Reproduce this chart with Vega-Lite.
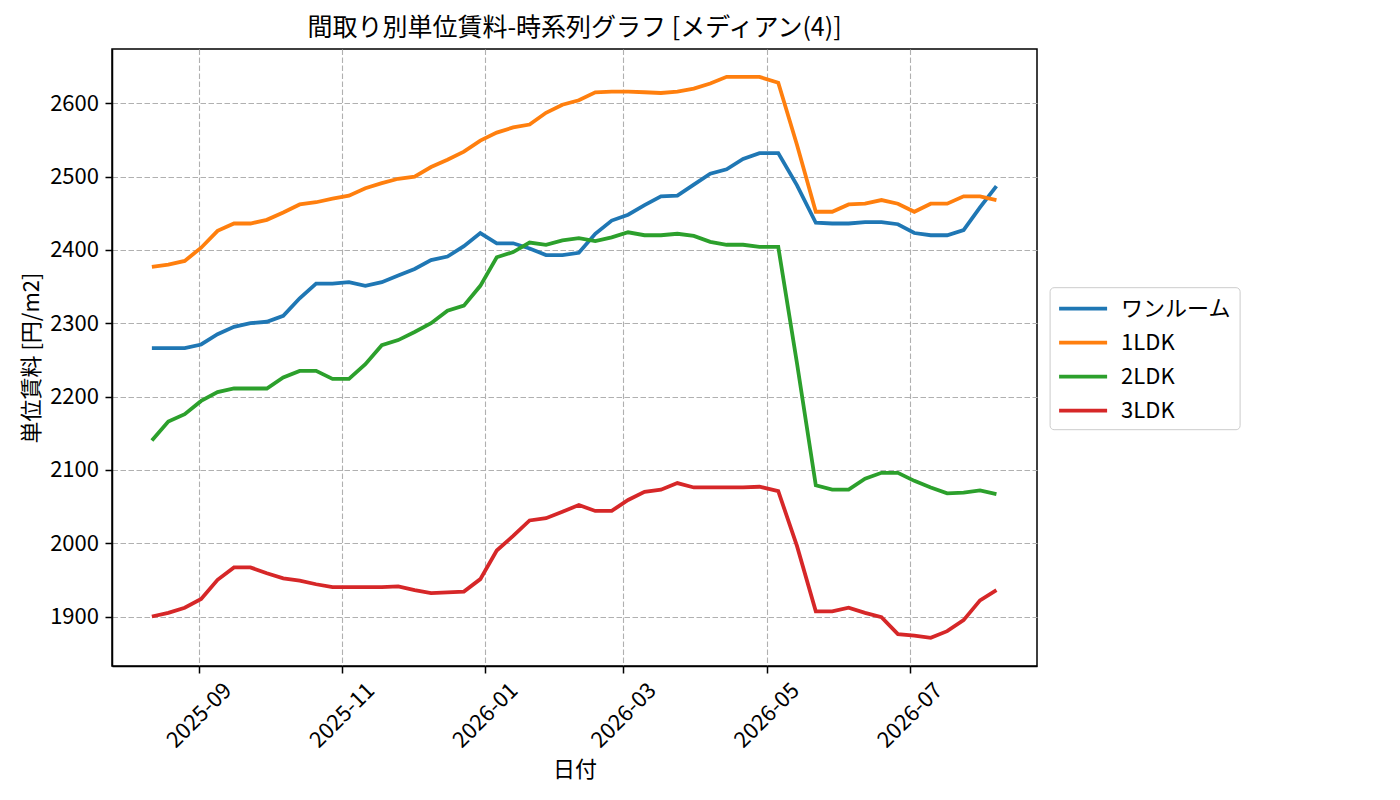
{
  "$schema": "https://vega.github.io/schema/vega-lite/v6.json",
  "width": 925,
  "height": 617,
  "autosize": {"type": "none"},
  "padding": {"left": 112, "top": 49, "right": 363, "bottom": 134},
  "background": "white",
  "config": {
    "font": "Noto Sans CJK JP",
    "view": {"stroke": "black", "strokeWidth": 1.5},
    "axis": {
      "labelFont": "Noto Sans CJK JP",
      "labelFontSize": 22,
      "labelColor": "black",
      "titleFont": "Noto Sans CJK JP",
      "titleFontSize": 22,
      "titleFontWeight": "normal",
      "titleColor": "black",
      "domainColor": "black",
      "domainWidth": 1.5,
      "tickColor": "black",
      "tickSize": 7,
      "tickWidth": 1.5,
      "gridColor": "#b0b0b0",
      "gridDash": [5.5, 2.5],
      "gridWidth": 1.1
    },
    "legend": {
      "orient": "none",
      "legendX": 937.6,
      "legendY": 238.2,
      "symbolType": "M-1,0L3,0",
      "symbolSize": 576,
      "symbolStrokeWidth": 3.8,
      "labelFont": "Noto Sans CJK JP",
      "labelFontSize": 22,
      "labelColor": "black",
      "labelOffset": 36,
      "rowPadding": 9,
      "padding": 7.5,
      "fillColor": "white",
      "strokeColor": "#cccccc",
      "cornerRadius": 4
    }
  },
  "title": {
    "text": "間取り別単位賃料-時系列グラフ [メディアン(4)]",
    "fontSize": 25,
    "fontWeight": "normal",
    "color": "black",
    "offset": 8
  },
  "data": {
    "values": [
      {"date": "2025-08-12", "series": "ワンルーム", "value": 2266},
      {"date": "2025-08-19", "series": "ワンルーム", "value": 2266},
      {"date": "2025-08-26", "series": "ワンルーム", "value": 2266},
      {"date": "2025-09-02", "series": "ワンルーム", "value": 2271},
      {"date": "2025-09-09", "series": "ワンルーム", "value": 2285},
      {"date": "2025-09-16", "series": "ワンルーム", "value": 2295},
      {"date": "2025-09-23", "series": "ワンルーム", "value": 2300},
      {"date": "2025-09-30", "series": "ワンルーム", "value": 2302},
      {"date": "2025-10-07", "series": "ワンルーム", "value": 2310},
      {"date": "2025-10-14", "series": "ワンルーム", "value": 2334},
      {"date": "2025-10-21", "series": "ワンルーム", "value": 2354},
      {"date": "2025-10-28", "series": "ワンルーム", "value": 2354},
      {"date": "2025-11-04", "series": "ワンルーム", "value": 2356},
      {"date": "2025-11-11", "series": "ワンルーム", "value": 2351},
      {"date": "2025-11-18", "series": "ワンルーム", "value": 2356},
      {"date": "2025-11-25", "series": "ワンルーム", "value": 2365},
      {"date": "2025-12-02", "series": "ワンルーム", "value": 2374},
      {"date": "2025-12-09", "series": "ワンルーム", "value": 2386},
      {"date": "2025-12-16", "series": "ワンルーム", "value": 2391},
      {"date": "2025-12-23", "series": "ワンルーム", "value": 2405},
      {"date": "2025-12-30", "series": "ワンルーム", "value": 2423},
      {"date": "2026-01-06", "series": "ワンルーム", "value": 2409},
      {"date": "2026-01-13", "series": "ワンルーム", "value": 2409},
      {"date": "2026-01-20", "series": "ワンルーム", "value": 2402},
      {"date": "2026-01-27", "series": "ワンルーム", "value": 2393},
      {"date": "2026-02-03", "series": "ワンルーム", "value": 2393},
      {"date": "2026-02-10", "series": "ワンルーム", "value": 2396},
      {"date": "2026-02-17", "series": "ワンルーム", "value": 2422},
      {"date": "2026-02-24", "series": "ワンルーム", "value": 2440},
      {"date": "2026-03-03", "series": "ワンルーム", "value": 2448},
      {"date": "2026-03-10", "series": "ワンルーム", "value": 2461},
      {"date": "2026-03-17", "series": "ワンルーム", "value": 2473},
      {"date": "2026-03-24", "series": "ワンルーム", "value": 2474},
      {"date": "2026-03-31", "series": "ワンルーム", "value": 2489},
      {"date": "2026-04-07", "series": "ワンルーム", "value": 2504},
      {"date": "2026-04-14", "series": "ワンルーム", "value": 2510},
      {"date": "2026-04-21", "series": "ワンルーム", "value": 2524},
      {"date": "2026-04-28", "series": "ワンルーム", "value": 2532},
      {"date": "2026-05-06", "series": "ワンルーム", "value": 2532},
      {"date": "2026-05-14", "series": "ワンルーム", "value": 2488},
      {"date": "2026-05-22", "series": "ワンルーム", "value": 2437},
      {"date": "2026-05-29", "series": "ワンルーム", "value": 2436},
      {"date": "2026-06-05", "series": "ワンルーム", "value": 2436},
      {"date": "2026-06-12", "series": "ワンルーム", "value": 2438},
      {"date": "2026-06-19", "series": "ワンルーム", "value": 2438},
      {"date": "2026-06-26", "series": "ワンルーム", "value": 2435},
      {"date": "2026-07-03", "series": "ワンルーム", "value": 2423},
      {"date": "2026-07-10", "series": "ワンルーム", "value": 2420},
      {"date": "2026-07-17", "series": "ワンルーム", "value": 2420},
      {"date": "2026-07-24", "series": "ワンルーム", "value": 2427},
      {"date": "2026-07-31", "series": "ワンルーム", "value": 2458},
      {"date": "2026-08-07", "series": "ワンルーム", "value": 2487},

      {"date": "2025-08-12", "series": "1LDK", "value": 2377},
      {"date": "2025-08-19", "series": "1LDK", "value": 2380},
      {"date": "2025-08-26", "series": "1LDK", "value": 2385},
      {"date": "2025-09-02", "series": "1LDK", "value": 2403},
      {"date": "2025-09-09", "series": "1LDK", "value": 2426},
      {"date": "2025-09-16", "series": "1LDK", "value": 2436},
      {"date": "2025-09-23", "series": "1LDK", "value": 2436},
      {"date": "2025-09-30", "series": "1LDK", "value": 2441},
      {"date": "2025-10-07", "series": "1LDK", "value": 2451},
      {"date": "2025-10-14", "series": "1LDK", "value": 2462},
      {"date": "2025-10-21", "series": "1LDK", "value": 2465},
      {"date": "2025-10-28", "series": "1LDK", "value": 2470},
      {"date": "2025-11-04", "series": "1LDK", "value": 2474},
      {"date": "2025-11-11", "series": "1LDK", "value": 2484},
      {"date": "2025-11-18", "series": "1LDK", "value": 2491},
      {"date": "2025-11-25", "series": "1LDK", "value": 2497},
      {"date": "2025-12-02", "series": "1LDK", "value": 2500},
      {"date": "2025-12-09", "series": "1LDK", "value": 2513},
      {"date": "2025-12-16", "series": "1LDK", "value": 2523},
      {"date": "2025-12-23", "series": "1LDK", "value": 2534},
      {"date": "2025-12-30", "series": "1LDK", "value": 2549},
      {"date": "2026-01-06", "series": "1LDK", "value": 2560},
      {"date": "2026-01-13", "series": "1LDK", "value": 2567},
      {"date": "2026-01-20", "series": "1LDK", "value": 2571},
      {"date": "2026-01-27", "series": "1LDK", "value": 2587},
      {"date": "2026-02-03", "series": "1LDK", "value": 2598},
      {"date": "2026-02-10", "series": "1LDK", "value": 2604},
      {"date": "2026-02-17", "series": "1LDK", "value": 2615},
      {"date": "2026-02-24", "series": "1LDK", "value": 2616},
      {"date": "2026-03-03", "series": "1LDK", "value": 2616},
      {"date": "2026-03-10", "series": "1LDK", "value": 2615},
      {"date": "2026-03-17", "series": "1LDK", "value": 2614},
      {"date": "2026-03-24", "series": "1LDK", "value": 2616},
      {"date": "2026-03-31", "series": "1LDK", "value": 2620},
      {"date": "2026-04-07", "series": "1LDK", "value": 2627},
      {"date": "2026-04-14", "series": "1LDK", "value": 2636},
      {"date": "2026-04-21", "series": "1LDK", "value": 2636},
      {"date": "2026-04-28", "series": "1LDK", "value": 2636},
      {"date": "2026-05-06", "series": "1LDK", "value": 2628},
      {"date": "2026-05-14", "series": "1LDK", "value": 2543},
      {"date": "2026-05-22", "series": "1LDK", "value": 2452},
      {"date": "2026-05-29", "series": "1LDK", "value": 2452},
      {"date": "2026-06-05", "series": "1LDK", "value": 2462},
      {"date": "2026-06-12", "series": "1LDK", "value": 2463},
      {"date": "2026-06-19", "series": "1LDK", "value": 2468},
      {"date": "2026-06-26", "series": "1LDK", "value": 2463},
      {"date": "2026-07-03", "series": "1LDK", "value": 2452},
      {"date": "2026-07-10", "series": "1LDK", "value": 2463},
      {"date": "2026-07-17", "series": "1LDK", "value": 2463},
      {"date": "2026-07-24", "series": "1LDK", "value": 2473},
      {"date": "2026-07-31", "series": "1LDK", "value": 2473},
      {"date": "2026-08-07", "series": "1LDK", "value": 2468},

      {"date": "2025-08-12", "series": "2LDK", "value": 2140},
      {"date": "2025-08-19", "series": "2LDK", "value": 2166},
      {"date": "2025-08-26", "series": "2LDK", "value": 2176},
      {"date": "2025-09-02", "series": "2LDK", "value": 2194},
      {"date": "2025-09-09", "series": "2LDK", "value": 2206},
      {"date": "2025-09-16", "series": "2LDK", "value": 2211},
      {"date": "2025-09-23", "series": "2LDK", "value": 2211},
      {"date": "2025-09-30", "series": "2LDK", "value": 2211},
      {"date": "2025-10-07", "series": "2LDK", "value": 2226},
      {"date": "2025-10-14", "series": "2LDK", "value": 2235},
      {"date": "2025-10-21", "series": "2LDK", "value": 2235},
      {"date": "2025-10-28", "series": "2LDK", "value": 2224},
      {"date": "2025-11-04", "series": "2LDK", "value": 2224},
      {"date": "2025-11-11", "series": "2LDK", "value": 2244},
      {"date": "2025-11-18", "series": "2LDK", "value": 2270},
      {"date": "2025-11-25", "series": "2LDK", "value": 2277},
      {"date": "2025-12-02", "series": "2LDK", "value": 2288},
      {"date": "2025-12-09", "series": "2LDK", "value": 2300},
      {"date": "2025-12-16", "series": "2LDK", "value": 2317},
      {"date": "2025-12-23", "series": "2LDK", "value": 2324},
      {"date": "2025-12-30", "series": "2LDK", "value": 2351},
      {"date": "2026-01-06", "series": "2LDK", "value": 2390},
      {"date": "2026-01-13", "series": "2LDK", "value": 2397},
      {"date": "2026-01-20", "series": "2LDK", "value": 2410},
      {"date": "2026-01-27", "series": "2LDK", "value": 2407},
      {"date": "2026-02-03", "series": "2LDK", "value": 2413},
      {"date": "2026-02-10", "series": "2LDK", "value": 2416},
      {"date": "2026-02-17", "series": "2LDK", "value": 2412},
      {"date": "2026-02-24", "series": "2LDK", "value": 2417},
      {"date": "2026-03-03", "series": "2LDK", "value": 2424},
      {"date": "2026-03-10", "series": "2LDK", "value": 2420},
      {"date": "2026-03-17", "series": "2LDK", "value": 2420},
      {"date": "2026-03-24", "series": "2LDK", "value": 2422},
      {"date": "2026-03-31", "series": "2LDK", "value": 2419},
      {"date": "2026-04-07", "series": "2LDK", "value": 2411},
      {"date": "2026-04-14", "series": "2LDK", "value": 2407},
      {"date": "2026-04-21", "series": "2LDK", "value": 2407},
      {"date": "2026-04-28", "series": "2LDK", "value": 2404},
      {"date": "2026-05-06", "series": "2LDK", "value": 2404},
      {"date": "2026-05-14", "series": "2LDK", "value": 2245},
      {"date": "2026-05-22", "series": "2LDK", "value": 2079},
      {"date": "2026-05-29", "series": "2LDK", "value": 2073},
      {"date": "2026-06-05", "series": "2LDK", "value": 2073},
      {"date": "2026-06-12", "series": "2LDK", "value": 2088},
      {"date": "2026-06-19", "series": "2LDK", "value": 2096},
      {"date": "2026-06-26", "series": "2LDK", "value": 2096},
      {"date": "2026-07-03", "series": "2LDK", "value": 2085},
      {"date": "2026-07-10", "series": "2LDK", "value": 2076},
      {"date": "2026-07-17", "series": "2LDK", "value": 2068},
      {"date": "2026-07-24", "series": "2LDK", "value": 2069},
      {"date": "2026-07-31", "series": "2LDK", "value": 2072},
      {"date": "2026-08-07", "series": "2LDK", "value": 2067},

      {"date": "2025-08-12", "series": "3LDK", "value": 1900},
      {"date": "2025-08-19", "series": "3LDK", "value": 1905},
      {"date": "2025-08-26", "series": "3LDK", "value": 1912},
      {"date": "2025-09-02", "series": "3LDK", "value": 1924},
      {"date": "2025-09-09", "series": "3LDK", "value": 1950},
      {"date": "2025-09-16", "series": "3LDK", "value": 1967},
      {"date": "2025-09-23", "series": "3LDK", "value": 1967},
      {"date": "2025-09-30", "series": "3LDK", "value": 1959},
      {"date": "2025-10-07", "series": "3LDK", "value": 1952},
      {"date": "2025-10-14", "series": "3LDK", "value": 1949},
      {"date": "2025-10-21", "series": "3LDK", "value": 1944},
      {"date": "2025-10-28", "series": "3LDK", "value": 1940},
      {"date": "2025-11-04", "series": "3LDK", "value": 1940},
      {"date": "2025-11-11", "series": "3LDK", "value": 1940},
      {"date": "2025-11-18", "series": "3LDK", "value": 1940},
      {"date": "2025-11-25", "series": "3LDK", "value": 1941},
      {"date": "2025-12-02", "series": "3LDK", "value": 1936},
      {"date": "2025-12-09", "series": "3LDK", "value": 1932},
      {"date": "2025-12-16", "series": "3LDK", "value": 1933},
      {"date": "2025-12-23", "series": "3LDK", "value": 1934},
      {"date": "2025-12-30", "series": "3LDK", "value": 1951},
      {"date": "2026-01-06", "series": "3LDK", "value": 1990},
      {"date": "2026-01-13", "series": "3LDK", "value": 2010},
      {"date": "2026-01-20", "series": "3LDK", "value": 2031},
      {"date": "2026-01-27", "series": "3LDK", "value": 2034},
      {"date": "2026-02-03", "series": "3LDK", "value": 2043},
      {"date": "2026-02-10", "series": "3LDK", "value": 2052},
      {"date": "2026-02-17", "series": "3LDK", "value": 2044},
      {"date": "2026-02-24", "series": "3LDK", "value": 2044},
      {"date": "2026-03-03", "series": "3LDK", "value": 2059},
      {"date": "2026-03-10", "series": "3LDK", "value": 2070},
      {"date": "2026-03-17", "series": "3LDK", "value": 2073},
      {"date": "2026-03-24", "series": "3LDK", "value": 2082},
      {"date": "2026-03-31", "series": "3LDK", "value": 2076},
      {"date": "2026-04-07", "series": "3LDK", "value": 2076},
      {"date": "2026-04-14", "series": "3LDK", "value": 2076},
      {"date": "2026-04-21", "series": "3LDK", "value": 2076},
      {"date": "2026-04-28", "series": "3LDK", "value": 2077},
      {"date": "2026-05-06", "series": "3LDK", "value": 2071},
      {"date": "2026-05-14", "series": "3LDK", "value": 1996},
      {"date": "2026-05-22", "series": "3LDK", "value": 1907},
      {"date": "2026-05-29", "series": "3LDK", "value": 1907},
      {"date": "2026-06-05", "series": "3LDK", "value": 1912},
      {"date": "2026-06-12", "series": "3LDK", "value": 1905},
      {"date": "2026-06-19", "series": "3LDK", "value": 1899},
      {"date": "2026-06-26", "series": "3LDK", "value": 1876},
      {"date": "2026-07-03", "series": "3LDK", "value": 1874},
      {"date": "2026-07-10", "series": "3LDK", "value": 1871},
      {"date": "2026-07-17", "series": "3LDK", "value": 1880},
      {"date": "2026-07-24", "series": "3LDK", "value": 1895},
      {"date": "2026-07-31", "series": "3LDK", "value": 1922},
      {"date": "2026-08-07", "series": "3LDK", "value": 1936}
    ]
  },
  "mark": {"type": "line", "strokeWidth": 3.8},
  "encoding": {
    "x": {
      "field": "date",
      "type": "temporal",
      "title": "日付",
      "scale": {
        "type": "utc",
        "domain": [
          {"year": 2025, "month": 7, "date": 26, "utc": true},
          {"year": 2026, "month": 8, "date": 24, "hours": 7, "utc": true}
        ]
      },
      "axis": {
        "values": [
          {"year": 2025, "month": 9, "date": 1, "utc": true},
          {"year": 2025, "month": 11, "date": 1, "utc": true},
          {"year": 2026, "month": 1, "date": 1, "utc": true},
          {"year": 2026, "month": 3, "date": 1, "utc": true},
          {"year": 2026, "month": 5, "date": 1, "utc": true},
          {"year": 2026, "month": 7, "date": 1, "utc": true}
        ],
        "format": "%Y-%m",
        "labelAngle": -45,
        "labelAlign": "center",
        "labelBaseline": "middle",
        "labelPadding": 42,
        "labelFlush": false,
        "labelOverlap": false,
        "titlePadding": 8
      }
    },
    "y": {
      "field": "value",
      "type": "quantitative",
      "title": "単位賃料 [円/m2]",
      "scale": {"domain": [1832.5, 2674], "nice": false, "zero": false},
      "axis": {
        "values": [1900, 2000, 2100, 2200, 2300, 2400, 2500, 2600],
        "format": "d",
        "labelPadding": 6.5,
        "titlePadding": 6
      }
    },
    "color": {
      "field": "series",
      "type": "nominal",
      "scale": {
        "domain": ["ワンルーム", "1LDK", "2LDK", "3LDK"],
        "range": ["#1f77b4", "#ff7f0e", "#2ca02c", "#d62728"]
      },
      "legend": {"title": null}
    }
  }
}
